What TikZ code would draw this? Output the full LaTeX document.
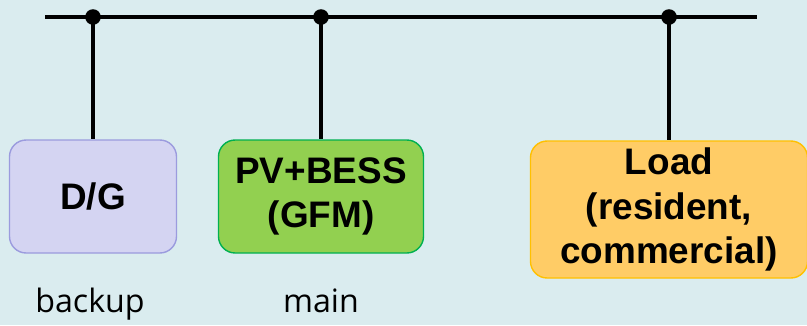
\documentclass[tikz,border=0pt]{standalone}
\usepackage{fontspec}
\setmainfont{Liberation Sans}
\newfontfamily\notefont{Open Sans}
\usepackage{xcolor}
\usetikzlibrary{positioning}

\definecolor{bgblue}{RGB}{218,236,239}
\definecolor{dgfill}{RGB}{212,212,242}
\definecolor{dgline}{RGB}{155,155,222}
\definecolor{pvfill}{RGB}{146,208,80}
\definecolor{pvline}{RGB}{0,176,80}
\definecolor{ldfill}{RGB}{255,204,102}
\definecolor{ldline}{RGB}{255,192,0}

\tikzset{
    unit/.style={draw, line width=1.2pt, rounded corners=0.5cm, align=center,
        inner sep=0pt, font=\fontsize{31.5}{38}\selectfont\bfseries},
    busline/.style={line width=3.4pt},
    feeder/.style={line width=3pt},
    note/.style={anchor=base, font=\notefont\fontsize{27.5}{32}\selectfont}
}

\begin{document}
\begin{tikzpicture}[x=0.03cm, y=-0.03cm]
    \fill[bgblue] (0,0) rectangle (807,325);
    \useasboundingbox (0,0) rectangle (807,325);

    % main bus and junctions
    \coordinate (busl) at (45,17);
    \coordinate (busr) at (757,17);
    \coordinate (j1) at (93,17);
    \coordinate (j2) at (321,17);
    \coordinate (j3) at (669,17);

    % units hanging off the bus
    \node[unit, fill=dgfill, draw=dgline, minimum width=5.01cm, minimum height=3.39cm] (dg) at (93,196.5) {D/G};
    \node[unit, fill=pvfill, draw=pvline, minimum width=6.15cm, minimum height=3.39cm] (pv) at (321,196.5) {PV+BESS\\(GFM)};
    \node[unit, fill=ldfill, draw=ldline, minimum width=8.31cm, minimum height=4.11cm] (ld) at (669,209.5) {Load\\(resident,\\commercial)};

    \node[note] (bk) at (90,312) {backup};
    \node[note] (mn) at (321,312) {main};

    \draw[busline] (busl) -- (busr);
    \draw[feeder]
    (j1) -- (dg.north)
    (j2) -- (pv.north)
    (j3) -- (ld.north);
    \foreach \j in {j1, j2, j3}
        \fill (\j) circle (7.8);
\end{tikzpicture}
\end{document}
